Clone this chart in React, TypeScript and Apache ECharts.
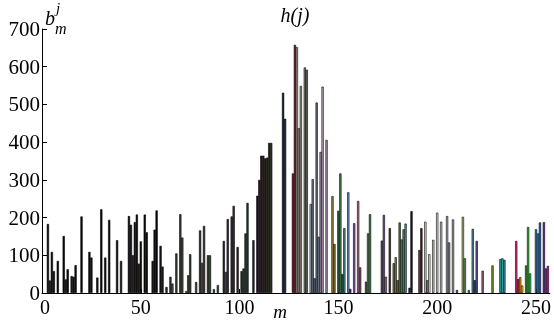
import React, { useEffect, useRef } from 'react';
import * as echarts from 'echarts';

// bar index m (x) and coefficient height b (y)
const positions = [
  3, 4, 5, 6, 8, 11, 12, 13, 15, 16,
  17, 20, 24, 25, 28, 30, 32, 34, 38, 40,
  44, 45, 46, 47, 48, 49, 50, 52, 53, 56,
  57, 58, 60, 61, 63, 65, 66, 68, 70, 71,
  73, 74, 75, 78, 80, 81, 82, 84, 85, 87,
  89, 92, 93, 94, 96, 97, 99, 101, 102, 103,
  104, 107, 109, 110, 111, 112, 113, 114, 115, 116,
  122, 123, 127, 128, 129, 130, 131, 133, 134, 136,
  137, 138, 139, 140, 141, 142, 144, 147, 148, 150,
  151, 152, 153, 155, 156, 158, 160, 161, 164, 165,
  166, 172, 173, 174, 176, 178, 179, 180, 181, 182,
  183, 184, 186, 187, 191, 192, 194, 195, 196, 198,
  200, 202, 205, 206, 208, 210, 213, 214, 216, 218,
  219, 220, 223, 228, 232, 233, 234, 240, 241, 242,
  243, 245, 246, 247, 250, 251, 252, 254, 255, 256,
];

const heights = [
  183, 33, 109, 58, 85, 151, 36, 63, 45, 43,
  74, 203, 109, 94, 41, 222, 94, 194, 140, 85,
  204, 181, 100, 188, 208, 78, 137, 208, 161, 85,
  168, 219, 125, 70, 16, 43, 25, 105, 209, 147,
  5, 47, 103, 29, 166, 80, 178, 100, 100, 10,
  21, 138, 56, 196, 203, 231, 122, 58, 65, 158,
  239, 140, 258, 300, 364, 364, 357, 359, 398, 398,
  531, 462, 317, 658, 652, 437, 549, 598, 592, 236,
  302, 39, 505, 149, 374, 547, 406, 257, 130, 218,
  317, 50, 172, 267, 11, 185, 244, 68, 30, 158,
  209, 139, 207, 43, 172, 79, 95, 34, 187, 142,
  169, 184, 14, 217, 114, 172, 189, 34, 103, 141,
  213, 189, 204, 134, 195, 8, 202, 92, 8, 170,
  34, 138, 59, 73, 90, 92, 88, 138, 37, 42,
  20, 73, 175, 52, 169, 158, 187, 188, 65, 72,
];

const barColors = [
  '#0d0d0d', '#1a1a1a', '#0a0a12', '#121008', '#0c0c0c', '#0a0a0a', '#202020', '#0e0e14', '#1a1a1a', '#141414',
  '#101010', '#0c0c0c', '#0e0e0e', '#141414', '#1a1a1a', '#0a0a0a', '#141414', '#0d0d0d', '#0e1010', '#1a1a1a',
  '#0a0a0a', '#0e0e12', '#202020', '#10080c', '#0c0c0c', '#1c1c18', '#141008', '#0c0c0c', '#16140a', '#1a1a1a',
  '#0e0e14', '#08080c', '#141414', '#1e1e1e', '#2a2a2a', '#3a3a36', '#4a4a44', '#3a3e38', '#3c4038', '#464a40',
  '#606060', '#404840', '#3a4436', '#3a4a3a', '#303030', '#6a5040', '#3a3030', '#2a402a', '#304a30', '#1e4a30',
  '#2a4a4a', '#2a2a40', '#505070', '#30304a', '#352845', '#4a2a40', '#3a2a1a', '#1a3a20', '#204a30', '#1a4a30',
  '#1a4030', '#1a2a40', '#2a1030', '#3a1540', '#401018', '#4a1520', '#2a2010', '#2a2a10', '#2a3010', '#303a10',
  '#0a1a3a', '#102040', '#6a1030', '#701828', '#b09898', '#a8a090', '#a09a8a', '#7a8070', '#6a7068', '#a0b0b8',
  '#707888', '#606878', '#6a7080', '#8088a0', '#a090b0', '#c0a8c0', '#b090b0', '#a08850', '#8a7a30', '#306040',
  '#4a8050', '#305a50', '#4a8a8a', '#7090c0', '#503060', '#8060a0', '#b07090', '#805060', '#506020', '#608060',
  '#308a40', '#6a3a90', '#8050a0', '#909090', '#5a3040', '#8a7a20', '#a09030', '#7a7a20', '#3a8a3a', '#40a050',
  '#3aa070', '#40b0a0', '#203060', '#101840', '#a03060', '#5a1a2a', '#e0e0c8', '#8a8a80', '#e8e8d8', '#c8d0c0',
  '#d8e0d8', '#c0d0c8', '#b0a8b8', '#908890', '#a8a0b0', '#806040', '#b0b880', '#70a060', '#40a080', '#508898',
  '#304870', '#6050a0', '#a06080', '#7a9a30', '#30b0a0', '#40c0c0', '#3090b0', '#e03080', '#c03040', '#f0a010',
  '#f0d020', '#40a030', '#30c030', '#20d060', '#2080e0', '#10a0f0', '#3050d0', '#7020c0', '#c020a0', '#e010b0',
];

const xTicks = [0, 50, 100, 150, 200, 250];
const yTicks = [0, 100, 200, 300, 400, 500, 600, 700];

export default function App() {
  const ref = useRef<HTMLDivElement>(null);
  useEffect(() => {
    if (!ref.current) return;
    const chart = echarts.init(ref.current, null, { renderer: 'svg' });
    const serif = '"Liberation Serif", "Times New Roman", serif';
    const data = positions.map((m, i) => ({
      value: [m, heights[i]],
      itemStyle: { color: barColors[i] },
    }));
    chart.setOption({
      animation: false,
      grid: { left: 42, right: 3, top: 29, bottom: 30 },
      xAxis: {
        type: 'value',
        min: 0,
        max: 257,
        interval: 50,
        axisLine: { show: true, lineStyle: { color: '#000', width: 1 } },
        axisTick: { show: true, inside: true, length: 4, lineStyle: { color: '#000' } },
        axisLabel: {
          color: '#000',
          fontFamily: serif,
          fontSize: 20,
          lineHeight: 13,
          margin: 7,
          showMaxLabel: false,
          formatter: (v: number) => (v === 0 ? '{z|0}' : xTicks.includes(v) ? String(v) : ''),
          rich: {
            z: { fontFamily: serif, fontSize: 20, lineHeight: 13, color: '#000', padding: [0, 0, 0, 6] },
          },
        },
        splitLine: { show: false },
      },
      yAxis: {
        type: 'value',
        min: 0,
        max: 700,
        interval: 100,
        axisLine: { show: true, lineStyle: { color: '#000', width: 1 } },
        axisTick: { show: true, inside: true, length: 5, lineStyle: { color: '#000' } },
        axisLabel: {
          color: '#000',
          fontFamily: serif,
          fontSize: 21,
          lineHeight: 13,
          margin: 2,
          formatter: (v: number) => (yTicks.includes(v) ? String(v) : ''),
        },
        splitLine: { show: false },
      },
      series: [
        {
          type: 'bar',
          barWidth: 2.2,
          data,
          itemStyle: { borderColor: '#000', borderWidth: 0.6 },
        },
      ],
      graphic: [
        {
          type: 'text', x: 295, y: 15,
          style: { text: 'h(j)', font: 'italic 20px "Liberation Serif"', fill: '#000', textAlign: 'center', textVerticalAlign: 'middle', align: 'center', verticalAlign: 'middle' },
        },
        {
          type: 'text', x: 45, y: 18,
          style: { text: 'b', font: 'italic 20px "Liberation Serif"', fill: '#000', textAlign: 'left', textVerticalAlign: 'middle', align: 'left', verticalAlign: 'middle' },
        },
        {
          type: 'text', x: 56, y: 8,
          style: { text: 'j', font: 'italic 15px "Liberation Serif"', fill: '#000', textAlign: 'left', textVerticalAlign: 'middle', align: 'left', verticalAlign: 'middle' },
        },
        {
          type: 'text', x: 55, y: 28,
          style: { text: 'm', font: 'italic 16px "Liberation Serif"', fill: '#000', textAlign: 'left', textVerticalAlign: 'middle', align: 'left', verticalAlign: 'middle' },
        },
        {
          type: 'text', x: 280, y: 311,
          style: { text: 'm', font: 'italic 19px "Liberation Serif"', fill: '#000', textAlign: 'center', textVerticalAlign: 'middle', align: 'center', verticalAlign: 'middle' },
        },
      ],
    });
    return () => chart.dispose();
  }, []);
  return <div ref={ref} style={{ position: 'fixed', left: 0, top: 0, width: 554, height: 323 }} />;
}
